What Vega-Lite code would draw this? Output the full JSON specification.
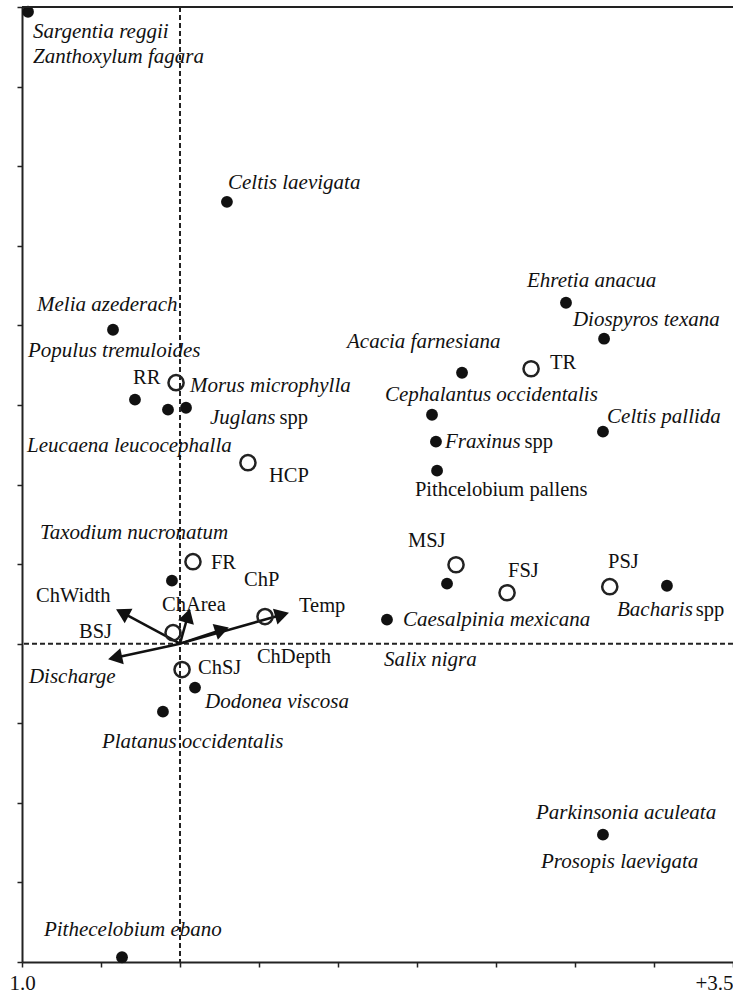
{
  "$schema": "https://vega.github.io/schema/vega-lite/v6.json",
  "width": 711,
  "height": 955,
  "autosize": {"type": "none"},
  "padding": {"left": 22, "top": 7, "right": 0, "bottom": 32},
  "background": "white",
  "config": {
    "view": {"stroke": null},
    "axis": {"grid": false, "domainColor": "#222", "domainWidth": 2, "tickColor": "#222", "tickWidth": 1.5, "tickSize": 5, "labelFont": "Liberation Serif", "labelFontSize": 21, "labelColor": "#111"}
  },
  "data": {"values": [{}]},
  "datasets": {
    "species": [
      {"name": "Sargentia reggii / Zanthoxylum fagara", "x": -0.962, "y": 3.97},
      {"name": "Celtis laevigata", "x": 0.297, "y": 2.776},
      {"name": "Melia azederach / Populus tremuloides", "x": -0.424, "y": 1.972},
      {"name": "Leucaena leucocephalla", "x": -0.285, "y": 1.533},
      {"name": "Morus microphylla", "x": -0.076, "y": 1.47},
      {"name": "Juglans spp", "x": 0.038, "y": 1.482},
      {"name": "Acacia farnesiana", "x": 1.785, "y": 1.702},
      {"name": "Ehretia anacua", "x": 2.443, "y": 2.142},
      {"name": "Diospyros texana", "x": 2.684, "y": 1.916},
      {"name": "Cephalantus occidentalis", "x": 1.595, "y": 1.438},
      {"name": "Celtis pallida", "x": 2.677, "y": 1.332},
      {"name": "Fraxinus spp", "x": 1.62, "y": 1.269},
      {"name": "Pithcelobium pallens", "x": 1.627, "y": 1.087},
      {"name": "Taxodium nucronatum", "x": -0.051, "y": 0.396},
      {"name": "Salix nigra", "x": 1.69, "y": 0.377},
      {"name": "Bacharis spp", "x": 3.082, "y": 0.364},
      {"name": "Caesalpinia mexicana", "x": 1.31, "y": 0.151},
      {"name": "Dodonea viscosa", "x": 0.095, "y": -0.276},
      {"name": "Platanus occidentalis", "x": -0.108, "y": -0.427},
      {"name": "Parkinsonia aculeata / Prosopis laevigata", "x": 2.677, "y": -1.2},
      {"name": "Pithecelobium ebano", "x": -0.367, "y": -1.97}
    ],
    "sites": [
      {"name": "RR", "x": -0.025, "y": 1.64},
      {"name": "HCP", "x": 0.43, "y": 1.137},
      {"name": "TR", "x": 2.222, "y": 1.727},
      {"name": "FR", "x": 0.082, "y": 0.515},
      {"name": "MSJ", "x": 1.747, "y": 0.496},
      {"name": "FSJ", "x": 2.07, "y": 0.32},
      {"name": "PSJ", "x": 2.72, "y": 0.358},
      {"name": "BSJ", "x": -0.044, "y": 0.069},
      {"name": "ChSJ", "x": 0.013, "y": -0.163},
      {"name": "ChP", "x": 0.538, "y": 0.17}
    ],
    "vectors": [
      {"name": "ChWidth", "x": -0.365, "y": 0.195, "x0": 0, "y0": 0},
      {"name": "ChArea", "x": 0.05, "y": 0.176, "x0": 0, "y0": 0},
      {"name": "ChDepth", "x": 0.266, "y": 0.088, "x0": 0, "y0": 0},
      {"name": "Temp", "x": 0.646, "y": 0.182, "x0": 0, "y0": 0},
      {"name": "Discharge", "x": -0.411, "y": -0.088, "x0": 0, "y0": 0}
    ],
    "italicLabels": [
      {"text": "Sargentia reggii", "x": -0.93, "y": 3.844},
      {"text": "Zanthoxylum fagara", "x": -0.93, "y": 3.687},
      {"text": "Celtis laevigata", "x": 0.304, "y": 2.896},
      {"text": "Melia azederach", "x": -0.905, "y": 2.129},
      {"text": "Populus tremuloides", "x": -0.962, "y": 1.84},
      {"text": "Morus microphylla", "x": 0.063, "y": 1.621},
      {"text": "Juglans", "x": 0.19, "y": 1.42},
      {"text": "Leucaena leucocephalla", "x": -0.968, "y": 1.244},
      {"text": "Ehretia anacua", "x": 2.196, "y": 2.28},
      {"text": "Diospyros texana", "x": 2.487, "y": 2.035},
      {"text": "Acacia farnesiana", "x": 1.057, "y": 1.897},
      {"text": "Cephalantus occidentalis", "x": 1.297, "y": 1.564},
      {"text": "Celtis pallida", "x": 2.703, "y": 1.426},
      {"text": "Fraxinus", "x": 1.677, "y": 1.269},
      {"text": "Taxodium nucronatum", "x": -0.886, "y": 0.697},
      {"text": "Discharge", "x": -0.956, "y": -0.207},
      {"text": "Dodonea viscosa", "x": 0.158, "y": -0.364},
      {"text": "Bacharis", "x": 2.766, "y": 0.214},
      {"text": "Caesalpinia mexicana", "x": 1.411, "y": 0.151},
      {"text": "Salix nigra", "x": 1.291, "y": -0.1},
      {"text": "Platanus occidentalis", "x": -0.494, "y": -0.616},
      {"text": "Parkinsonia aculeata", "x": 2.253, "y": -1.062},
      {"text": "Prosopis laevigata", "x": 2.285, "y": -1.369},
      {"text": "Pithecelobium ebano", "x": -0.861, "y": -1.796}
    ],
    "uprightLabels": [
      {"text": "spp", "x": 0.63, "y": 1.42},
      {"text": "spp", "x": 2.18, "y": 1.269},
      {"text": "spp", "x": 3.265, "y": 0.214},
      {"text": "Pithcelobium pallens", "x": 1.487, "y": 0.967},
      {"text": "RR", "x": -0.297, "y": 1.671},
      {"text": "HCP", "x": 0.563, "y": 1.055},
      {"text": "TR", "x": 2.342, "y": 1.765},
      {"text": "FR", "x": 0.196, "y": 0.509},
      {"text": "ChP", "x": 0.405, "y": 0.402},
      {"text": "ChWidth", "x": -0.911, "y": 0.302},
      {"text": "ChArea", "x": -0.114, "y": 0.245},
      {"text": "Temp", "x": 0.753, "y": 0.239},
      {"text": "BSJ", "x": -0.639, "y": 0.075},
      {"text": "ChDepth", "x": 0.487, "y": -0.082},
      {"text": "ChSJ", "x": 0.114, "y": -0.151},
      {"text": "MSJ", "x": 1.443, "y": 0.647},
      {"text": "FSJ", "x": 2.076, "y": 0.459},
      {"text": "PSJ", "x": 2.709, "y": 0.515}
    ]
  },
  "layer": [
    {
      "data": {"name": "species"},
      "mark": {"type": "point", "filled": true, "shape": "circle", "size": 140, "color": "#111", "opacity": 1},
      "encoding": {
        "x": {"field": "x", "type": "quantitative", "title": null,
          "scale": {"domain": [-1, 3.5], "nice": false, "zero": false},
          "axis": {"values": [-1, -0.5, 0, 0.5, 1, 1.5, 2, 2.5, 3, 3.5], "labelExpr": "datum.value == -1 ? '1.0' : (datum.value == 3.5 ? '+3.5' : '')", "labelAlign": {"condition": {"test": "datum.value == 3.5", "value": "right"}, "value": "center"}, "labelFlush": false, "labelOverlap": false, "labelPadding": 5, "labelBound": false}},
        "y": {"field": "y", "type": "quantitative", "title": null,
          "scale": {"domain": [-2, 4], "nice": false, "zero": false},
          "axis": {"values": [-2, -1.5, -1, -0.5, 0, 0.5, 1, 1.5, 2, 2.5, 3, 3.5, 4], "labels": false}}
      }
    },
    {
      "mark": {"type": "rule", "strokeDash": [5, 3], "strokeWidth": 2, "color": "#222"},
      "encoding": {"x": {"datum": 0, "type": "quantitative"}}
    },
    {
      "mark": {"type": "rule", "strokeDash": [5, 3], "strokeWidth": 2, "color": "#222"},
      "encoding": {"y": {"datum": 0, "type": "quantitative"}}
    },
    {
      "mark": {"type": "rule", "strokeWidth": 2, "color": "#222"},
      "encoding": {"y": {"datum": 4, "type": "quantitative"}}
    },
    {
      "data": {"name": "vectors"},
      "mark": {"type": "rule", "strokeWidth": 2.5, "color": "#111"},
      "encoding": {
        "x": {"field": "x0", "type": "quantitative", "title": null},
        "y": {"field": "y0", "type": "quantitative", "title": null},
        "x2": {"field": "x"},
        "y2": {"field": "y"}
      }
    },
    {
      "data": {"name": "vectors"},
      "transform": [{"calculate": "atan2(-datum.y, datum.x) * 180 / PI", "as": "ang"}],
      "mark": {"type": "point", "shape": "triangle-right", "filled": true, "size": 270, "color": "#111", "opacity": 1},
      "encoding": {
        "x": {"field": "x", "type": "quantitative", "title": null},
        "y": {"field": "y", "type": "quantitative", "title": null},
        "angle": {"field": "ang", "type": "quantitative", "scale": null}
      }
    },
    {
      "data": {"name": "sites"},
      "mark": {"type": "point", "shape": "circle", "filled": false, "size": 230, "stroke": "#222", "strokeWidth": 2.5, "opacity": 1},
      "encoding": {
        "x": {"field": "x", "type": "quantitative", "title": null},
        "y": {"field": "y", "type": "quantitative", "title": null}
      }
    },
    {
      "data": {"name": "italicLabels"},
      "mark": {"type": "text", "font": "Liberation Serif", "fontStyle": "italic", "fontSize": 21, "align": "left", "baseline": "middle", "color": "#111"},
      "encoding": {
        "x": {"field": "x", "type": "quantitative", "title": null},
        "y": {"field": "y", "type": "quantitative", "title": null},
        "text": {"field": "text"}
      }
    },
    {
      "data": {"name": "uprightLabels"},
      "mark": {"type": "text", "font": "Liberation Serif", "fontSize": 20.5, "align": "left", "baseline": "middle", "color": "#111"},
      "encoding": {
        "x": {"field": "x", "type": "quantitative", "title": null},
        "y": {"field": "y", "type": "quantitative", "title": null},
        "text": {"field": "text"}
      }
    }
  ]
}
